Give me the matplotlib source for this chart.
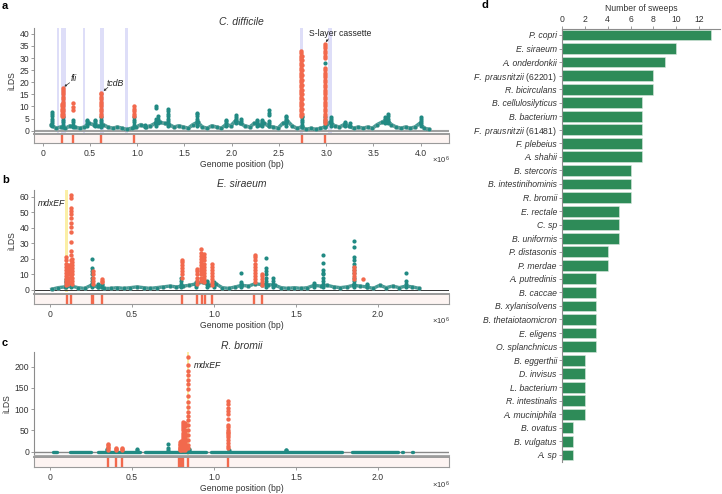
import numpy as np
import matplotlib
matplotlib.use('Agg')
import matplotlib.pyplot as plt

plt.rcParams['font.family'] = 'Liberation Sans'
plt.rcParams['font.size'] = 6.2
plt.rcParams['mathtext.fontset'] = 'custom'
plt.rcParams['mathtext.it'] = 'Liberation Sans:italic'
plt.rcParams['mathtext.rm'] = 'Liberation Sans'

TEAL = '#218a83'
RED = '#f2694d'
LAV = '#dedef8'
YEL = '#fbefa6'
GREEN = '#2e8b58'
GREY = '#8c8c8c'

# ---------------- panel a : C. difficile (positions in Mb) ----------------
a_bg_x = np.round(np.arange(0.09, 4.10, 0.05), 2)
a_bg_y = [2.5, 1.0, 1.5, 1.0, 2.0, 1.5, 1.0, 1.5, 3.0, 2.5, 2.0, 2.5, 1.5, 1.0, 1.5, 1.0, 0.5,
          1.0, 1.5, 2.5, 1.5, 2.0, 3.0, 3.5, 3.0, 2.5, 1.5, 2.0, 1.5, 1.0, 2.5, 3.5, 1.5, 1.0,
          2.0, 1.5, 1.0, 2.5, 2.0, 4.0, 3.0, 2.0, 1.5, 3.0, 2.5, 3.0, 2.0, 1.5, 1.0, 3.0, 4.0,
          2.0, 1.0, 1.5, 0.5, 1.0, 0.5, 1.0, 1.5, 3.5, 2.0, 1.5, 2.5, 2.0, 1.0, 1.5, 1.0, 1.5,
          1.0, 2.5, 3.5, 4.5, 2.5, 1.5, 1.0, 1.5, 1.0, 1.5, 3.0, 1.0, 0.5]
a_teal_x = [0.095, 0.21, 0.32, 0.47, 0.55, 0.62, 0.965, 1.08, 1.20, 1.22, 1.33, 1.63, 1.94,
            2.05, 2.10, 2.27, 2.32, 2.40, 2.57, 2.74, 2.985, 3.05, 3.20, 3.25, 3.62, 3.65, 4.00]
a_teal_ys = [[2, 3, 4, 5, 6, 7, 7.8], [1.5, 2.5, 3.5, 4.5, 5.5], [1.5, 2.5, 3.5, 4.5],
             [2, 3, 4, 4.5], [2, 3, 4, 4.5], [1.5, 2.5, 3.5, 4.5, 5.5], [1.5, 2.5, 3.5, 4.5, 5.5],
             [1.5, 2.5], [2, 3, 4, 5, 9.5, 10.3], [3, 4, 5, 6], [2, 3, 4, 5, 6, 7, 8, 8.8],
             [2, 3, 4, 5, 6, 7, 7.4], [2, 3, 4, 4.5], [3, 4, 5, 5.5, 6.5], [3, 4, 5],
             [2, 3, 4, 4.5], [2, 3, 4, 4.5], [2, 3, 4, 6.5, 7.5, 8.5], [2, 3, 4, 5, 5.5, 6],
             [1.5, 2.5, 3.5, 4.5, 5.5, 6], [1.5, 2.5, 3.5, 4.5, 5.5], [2, 3, 4, 5, 5.5],
             [2, 3, 3.5], [2, 3], [3, 4, 5, 5.5], [3, 4, 5, 6, 7], [2, 3, 4, 5, 5.5]]
a_red_x = [0.20, 0.212, 0.317, 0.617, 0.966, 2.735, 2.745, 2.985]
a_red_ys = [[6, 7, 8, 9, 10, 11],
            [6, 7, 8, 9, 10, 11, 12, 13, 14, 15, 16, 17, 17.5],
            [8.6, 9.9, 11.3],
            [6, 7, 8, 9, 10, 11, 12, 13, 14, 15, 15.7],
            [6, 7, 8, 9, 10],
            [6, 7, 8, 9, 10, 11, 12, 13, 14, 15, 16, 17, 18, 19, 20, 21, 22, 23, 24, 25, 26,
             27, 28, 29, 30, 31, 32, 33],
            [7, 9, 11, 13, 15, 17, 19, 21, 23, 25, 27, 29, 31],
            [3, 4, 5, 6, 7, 8, 9, 10, 11, 12, 13, 14, 15, 16, 17, 18, 19, 20, 21, 22, 23, 24,
             25, 26, 30, 31, 32, 33, 34, 35, 36]]
a_teal_top_x = [2.985]
a_teal_top_y = [28]
a_sweeps = [0.20, 0.317, 0.617, 0.966, 2.74, 2.985]
a_bands = [(0.151, 0.172), (0.194, 0.247), (0.426, 0.448), (0.606, 0.649), (0.871, 0.903),
           (2.72, 2.755), (3.02, 3.06)]

# ---------------- panel b : E. siraeum ----------------
b_bg_x = np.round(np.arange(0.01, 2.26, 0.04), 2)
b_bg_y = [0.5, 1.5, 2.0, 2.5, 1.5, 1.0, 3.0, 2.0, 1.0, 1.0, 1.5, 1.0, 1.5, 2.0, 1.5, 1.0, 1.5,
          2.0, 2.5, 2.0, 2.5, 3.0, 4.0, 5.0, 3.0, 4.0, 1.5, 1.0, 2.0, 3.0, 2.5, 4.0, 3.5, 3.5,
          3.0, 1.5, 1.0, 1.5, 1.0, 1.5, 3.0, 2.5, 3.0, 2.0, 1.5, 2.0, 3.0, 2.5, 2.0, 1.0, 3.0,
          1.5, 2.5, 1.5, 2.5, 2.0, 1.0]
b_teal_x = [0.10, 0.128, 0.255, 0.29, 0.315, 0.80, 0.89, 0.96, 1.00, 1.163, 1.315, 1.36,
            1.61, 1.663, 1.855, 1.93, 2.17]
b_teal_ys = [[2, 4, 5, 6, 7], [2, 4, 5], [2, 4, 6, 8, 10, 12, 14, 20], [2, 3, 4], [2, 3, 4],
             [2, 4, 6, 8], [2, 3, 4, 5], [2, 4, 5, 6], [2, 4, 5], [2, 4, 5, 10.7],
             [2, 4, 6, 8, 10, 12, 14, 20.8], [2, 4, 6, 8], [2, 3, 4.5],
             [2, 4, 6, 8, 10, 11, 13, 17.5, 22.5],
             [2, 4, 6, 8, 11, 13, 15, 17, 19, 21, 27.9, 31.5], [2, 3, 4], [2, 4, 6, 11.1]]
b_red_x = [0.10, 0.11, 0.128, 0.136, 0.262, 0.315, 0.805, 0.895, 0.92, 0.94, 0.99, 1.25,
           1.29, 1.855, 1.907]
b_red_ys = [[3, 5, 7, 9, 11, 13, 15, 17, 19, 21.4], [4, 6, 8, 10, 12, 14, 16],
            [5, 7.5, 9, 10.7, 12.9, 15, 17, 19.3, 22.5, 25, 31, 37.5, 40.7, 43, 46, 48.6, 51,
             52.5, 59, 61],
            [4, 6, 8, 10, 12, 14, 16, 18, 20], [4, 6, 8, 10, 12], [5, 6, 7],
            [8, 10, 12, 14, 16, 18, 19.5], [4, 6, 8, 10, 12, 13.5],
            [6, 8, 10, 12, 14, 16, 18, 20, 22, 24, 26.5],
            [5, 7, 9, 11, 13, 15, 17, 19, 21, 23], [3, 5, 7, 9, 11, 13, 15, 16.5],
            [5, 7, 9, 11, 13, 15, 17, 19, 21, 22.5], [3, 5, 7, 9, 10], [7, 9, 11, 13, 15], [7]]
b_sweeps = [0.102, 0.128, 0.254, 0.264, 0.315, 0.803, 0.894, 0.925, 0.945, 0.990, 1.246, 1.291]
b_bands = [(0.091, 0.112)]

# ---------------- panel c : R. bromii ----------------
c_seg_start = [0.016, 0.12, 0.29, 0.58, 0.98, 1.84, 2.145, 2.205]
c_seg_end = [0.044, 0.25, 0.55, 0.95, 1.78, 2.12, 2.155, 2.215]
c_teal_x = [0.35, 0.53, 0.72, 0.80, 0.845, 1.09, 1.44]
c_teal_ys = [[3, 6], [3, 6], [4, 9, 17.3], [4, 8], [4, 6], [3], [3, 5]]
c_red_x = [0.353, 0.403, 0.438, 0.79, 0.80, 0.812, 0.82, 0.84, 1.087]
c_red_ys = [[3, 8, 12, 15, 18], [3, 6, 9], [3, 6, 9], [3, 6, 9, 12, 15, 18, 22],
            [4, 8, 12, 16, 20, 25],
            [5, 10, 15, 20, 25, 30, 35, 40, 45, 50, 55, 60, 65, 70],
            [4, 8, 12, 16, 20, 24, 28, 32, 36, 40, 45, 50, 60, 68],
            [8, 16, 27, 39, 51, 63, 75, 85, 94, 106, 118, 132, 147, 159, 169, 180, 190, 204, 223],
            [8, 14, 20, 28, 35, 40, 44, 47, 51, 58, 62, 78, 88, 95, 103, 112, 120]]
c_sweeps = [0.353, 0.403, 0.437, 0.785, 0.797, 0.81, 0.84, 1.087]
c_bands = [(0.833, 0.847)]

# ---------------- panel d ----------------
d_species = ['P. copri', 'E. siraeum', 'A. onderdonkii', 'F. prausnitzii', 'R. bicirculans',
             'B. cellulosilyticus', 'B. bacterium', 'F. prausnitzii', 'F. plebeius', 'A. shahii',
             'B. stercoris', 'B. intestinihominis', 'R. bromii', 'E. rectale', 'C. sp',
             'B. uniformis', 'P. distasonis', 'P. merdae', 'A. putredinis', 'B. caccae',
             'B. xylanisolvens', 'B. thetaiotaomicron', 'E. eligens', 'O. splanchnicus',
             'B. eggerthii', 'D. invisus', 'L. bacterium', 'R. intestinalis', 'A. muciniphila',
             'B. ovatus', 'B. vulgatus', 'A. sp']
d_strain = ['', '', '', '(62201)', '', '', '', '(61481)'] + [''] * 24
d_sweeps = [13, 10, 9, 8, 8, 7, 7, 7, 7, 7, 6, 6, 6, 5, 5, 5, 4, 4, 3, 3, 3, 3, 3, 3,
            2, 2, 2, 2, 2, 1, 1, 1]


def fx(px):
    return px / 722


def fy(py):
    return 1 - py / 494


def scan(top, bot, ttop, tbot, xlim, ylim, yticks, xticks, title, bands, band_col, sweeps):
    ax = fig.add_axes([fx(34), fy(bot), fx(415), (bot - top) / 494])
    tr = fig.add_axes([fx(34), fy(tbot), fx(415), (tbot - ttop) / 494])
    ax.set_xlim(xlim)
    ax.set_ylim(ylim)
    tr.set_xlim(xlim)
    tr.set_ylim(0, 1)
    for s in ['top', 'right', 'bottom']:
        ax.spines[s].set_visible(False)
    ax.spines['left'].set_color(GREY)
    ax.spines['left'].set_linewidth(0.8)
    ax.set_xticks([])
    ax.set_yticks(yticks)
    ax.tick_params(axis='y', length=2, width=0.6, color=GREY, labelcolor='#333', pad=1.5)
    ax.set_ylabel('iLDS', labelpad=2, color='#333')
    ax.set_title(title, style='italic', pad=2.5, color='#333')
    for x0, x1 in bands:
        ax.axvspan(x0, x1, color=band_col, lw=0, zorder=0)
    tr.set_facecolor('#fdf4f2')
    for s in tr.spines.values():
        s.set_color('#9a9a9a')
        s.set_linewidth(0.8)
    tr.spines['top'].set_linewidth(1.4)
    tr.set_yticks([])
    for x in sweeps:
        tr.axvline(x, color=RED, lw=1.7)
    tr.set_xticks(xticks)
    tr.set_xticklabels(['0'] + ['%.1f' % t for t in xticks[1:]])
    tr.tick_params(axis='x', length=2, width=0.6, color=GREY, labelcolor='#333', pad=2)
    tr.set_xlabel('Genome position (bp)', labelpad=2, color='#333')
    return ax, tr


def columns(ax, xs, yss, color, s, z):
    px = [x for x, ys in zip(xs, yss) for _ in ys]
    py = [y for ys in yss for y in ys]
    ax.scatter(px, py, s=s, color=color, lw=0, zorder=z)


fig = plt.figure(figsize=(7.22, 4.94), dpi=100)

# panel a
ax, tr = scan(28, 133, 134, 143, (-0.092, 4.30), (-0.95, 42.4), range(0, 41, 5),
              [0, 0.5, 1.0, 1.5, 2.0, 2.5, 3.0, 3.5, 4.0], 'C. difficile', a_bands, LAV, a_sweeps)
ax.axhline(0, color='#a0a0a0', lw=1.5, zorder=1)
ax.plot(a_bg_x, a_bg_y, color=TEAL, lw=2.6, alpha=0.85, zorder=2, solid_capstyle='round')
ax.scatter(a_bg_x, a_bg_y, s=9, color=TEAL, edgecolor='#8fa9a6', lw=0.3, zorder=2)
columns(ax, a_teal_x, a_teal_ys, TEAL, 9, 3)
columns(ax, a_red_x, a_red_ys, RED, 10, 4)
ax.scatter(a_teal_top_x, a_teal_top_y, s=9, color=TEAL, lw=0, zorder=5)
arrow = dict(arrowstyle='-|>', lw=0.5, color='#333', mutation_scale=3, shrinkA=0, shrinkB=0)
ax.text(0.30, 21.6, 'fli', style='italic', va='center', ha='left', color='#222')
ax.annotate('', xy=(0.229, 18.2), xytext=(0.285, 19.8), arrowprops=arrow)
ax.text(0.68, 19.6, 'tcdB', style='italic', va='center', ha='left', color='#222')
ax.annotate('', xy=(0.645, 16.4), xytext=(0.69, 17.9), arrowprops=arrow)
ax.text(2.82, 40.2, 'S-layer cassette', va='center', ha='left', color='#222')
ax.annotate('', xy=(2.995, 36.6), xytext=(3.025, 37.9), arrowprops=arrow)

# panel b
ax, tr = scan(190, 292, 294, 304, (-0.098, 2.433), (-1.3, 64.3), range(0, 61, 10),
              [0, 0.5, 1.0, 1.5, 2.0], 'E. siraeum', b_bands, YEL, b_sweeps)
ax.axhline(0, color='#333', lw=0.7, zorder=1)
ax.plot(b_bg_x, b_bg_y, color=TEAL, lw=2.4, alpha=0.85, zorder=2)
ax.scatter(b_bg_x, b_bg_y, s=9, color=TEAL, edgecolor='#8fa9a6', lw=0.3, zorder=2)
columns(ax, b_teal_x, b_teal_ys, TEAL, 9, 3)
columns(ax, b_red_x, b_red_ys, RED, 10, 4)
ax.text(-0.075, 55.7, 'mdxEF', style='italic', va='center', ha='left', color='#222')

# panel c
ax, tr = scan(352, 455, 457, 467, (-0.098, 2.433), (-7.8, 234.6), range(0, 201, 50),
              [0, 0.5, 1.0, 1.5, 2.0], 'R. bromii', c_bands, YEL, c_sweeps)
ax.axhline(0, color='#888', lw=1.0, zorder=1)
ax.spines['bottom'].set_visible(True)
ax.spines['bottom'].set_color('#aaa')
segs = ax.hlines([0] * len(c_seg_start), c_seg_start, c_seg_end, color=TEAL, lw=2.4, zorder=2)
segs.set_capstyle('round')
columns(ax, c_teal_x, c_teal_ys, TEAL, 9, 3)
columns(ax, c_red_x, c_red_ys, RED, 10, 4)
ax.text(0.875, 204, 'mdxEF', style='italic', va='center', ha='left', color='#222')

for yy in [160, 321, 485]:
    fig.text(fx(441), fy(yy), r'$\times$10$^{6}$', ha='center', va='center', color='#333',
             fontsize=5.5)

# panel d
axd = fig.add_axes([fx(561.7), fy(462), fx(158.3), 433 / 494])
ypos = np.arange(len(d_species))
axd.barh(ypos, d_sweeps, height=0.8, color=GREEN, edgecolor='#dbe9e0', lw=0.4)
axd.set_ylim(31.52, -0.44)
axd.set_xlim(0, 13.8)
axd.xaxis.tick_top()
axd.xaxis.set_label_position('top')
axd.set_xticks(range(0, 13, 2))
axd.set_xlabel('Number of sweeps', labelpad=3, color='#333')
for s in ['right', 'bottom']:
    axd.spines[s].set_visible(False)
for s in ['top', 'left']:
    axd.spines[s].set_color(GREY)
    axd.spines[s].set_linewidth(0.8)
axd.tick_params(length=2, width=0.6, color=GREY, labelcolor='#333', pad=1.5)
labels = []
for name, strain in zip(d_species, d_strain):
    if strain:
        labels.append(r'$\mathit{' + name.replace(' ', r'\ ') + '}$ ' + strain)
    else:
        labels.append(name)
axd.set_yticks(ypos)
axd.set_yticklabels(labels)
for lab, strain in zip(axd.get_yticklabels(), d_strain):
    if not strain:
        lab.set_fontstyle('italic')

for txt, x, y in [('a', 2, 6), ('b', 2, 180), ('c', 2, 343), ('d', 481, 5)]:
    fig.text(fx(x), fy(y), txt, weight='bold', fontsize=8, va='center', ha='left')

fig.savefig('out.png', dpi=100)
